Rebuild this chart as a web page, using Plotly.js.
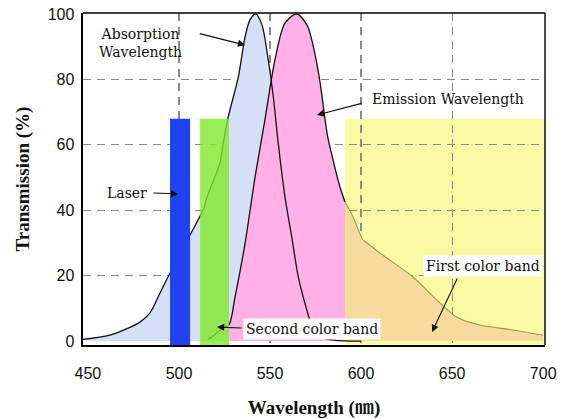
<!DOCTYPE html>
<html>
<head>
<meta charset="utf-8">
<script src="https://cdn.plot.ly/plotly-3.0.1.min.js"></script>
<style>html,body{margin:0;padding:0;background:#fff;}#chart{width:570px;height:419px;}</style>
</head>
<body>
<div id="chart"></div>
<script>
// ---- data ----
const absWavelength = [447, 462.1, 478.6, 484.1, 489.6, 495.1, 506.1, 513.7, 515.4, 522.5, 524.2, 527.1, 532.6, 536.3, 539, 542.1, 545.6, 549, 551.8, 554.5, 558.2, 561.9, 565.5, 569.2, 572.9, 577, 585, 600];
const absorption    = [0.5, 1.8, 5.8, 8.6, 14.7, 20.8, 32.4, 40.7, 44, 54.4, 60.2, 68.6, 80.8, 93, 98.2, 100, 96.6, 86, 74.7, 60.5, 44.1, 31.9, 19.7, 11.5, 4.9, 1.5, 0.3, 0];

const emWavelength = [516, 518, 523.5, 527.5, 530.8, 536.3, 541.8, 547.2, 552.7, 558.2, 564.7, 570.3, 572.5, 577, 581.5, 584.6, 588.4, 591.2, 595.6, 601.1, 603.3, 610.4, 614.2, 628.5, 641.7, 652.7, 665.3, 683.4, 700];
const emission     = [0.6, 1.2, 3.7, 5, 13.5, 29.9, 50.2, 67.6, 86, 97.2, 100, 96.6, 93, 80.8, 63, 55.4, 47.1, 42.5, 37.9, 30.9, 30, 26.9, 25.4, 19.6, 12.5, 7.3, 4.9, 3.4, 1.8];

const laserBand  = [495.1, 506.1];
const secondBand = [511.6, 527.5];
const firstBand  = [591.2, 701];
const bandHeight = 68;

const xTicks = [450, 500, 550, 600, 650, 700];
const yTicks = [0, 20, 40, 60, 80, 100];
const xGrid = [500, 550, 600, 650];
const yGrid = [20, 40, 60, 80];

// ---- helpers ----
function pick(xs, ys, lo, hi) {
  const x = [], y = [];
  xs.forEach((v, i) => { if (v >= lo && v <= hi) { x.push(v); y.push(ys[i]); } });
  return {x, y};
}
const emPink = pick(emWavelength, emission, secondBand[1], firstBand[0]);
const emTan  = pick(emWavelength, emission, firstBand[0], 800);
const emLeft = pick(emWavelength, emission, 0, firstBand[0]);

const sp = {shape: 'spline', smoothing: 0.8};
const traces = [
  {x: absWavelength, y: absorption, type: 'scatter', mode: 'lines', fill: 'tozeroy',
   fillcolor: '#d4e0f6', line: Object.assign({width: 0, color: 'rgba(0,0,0,0)'}, sp), hoverinfo: 'skip'},
  {x: emPink.x, y: emPink.y, type: 'scatter', mode: 'lines', fill: 'tozeroy',
   fillcolor: '#ffb0e6', line: Object.assign({width: 0, color: 'rgba(0,0,0,0)'}, sp), hoverinfo: 'skip'},
  {x: emTan.x, y: emTan.y, type: 'scatter', mode: 'lines', fill: 'tozeroy',
   fillcolor: '#f7da9e', line: Object.assign({width: 0, color: 'rgba(0,0,0,0)'}, sp), hoverinfo: 'skip'},
  {x: absWavelength, y: absorption, type: 'scatter', mode: 'lines',
   line: Object.assign({width: 1.3, color: '#111'}, sp)},
  {x: emLeft.x, y: emLeft.y, type: 'scatter', mode: 'lines',
   line: Object.assign({width: 1.3, color: '#111'}, sp)},
  {x: emTan.x, y: emTan.y, type: 'scatter', mode: 'lines',
   line: Object.assign({width: 1.1, color: '#9a9a4e'}, sp)}
];

const serif = 'DejaVu Serif, Liberation Serif, serif';
const titleFont = {family: 'Liberation Serif, Noto Serif CJK JP, Noto Sans CJK JP, serif', size: 19, color: '#111', weight: 'bold'};
const tickFont = {family: 'Liberation Sans, Arial, sans-serif', size: 16, color: '#111'};
const annFont = {family: serif, size: 14, color: '#111'};
const gridStyle = {showgrid: true, gridcolor: '#8a8a8a', gridwidth: 1.2, griddash: '8px,6px', ticks: ''};

function label(text, x, y, extra) {
  return Object.assign({text, x, y, xref: 'x', yref: 'y', showarrow: false, font: annFont}, extra || {});
}
function arrow(tx, ty, hx, hy) {
  return {text: '', x: hx, y: hy, ax: tx, ay: ty, xref: 'x', yref: 'y', axref: 'x', ayref: 'y',
          showarrow: true, arrowhead: 2, arrowsize: 1.3, arrowwidth: 1.1, arrowcolor: '#111', standoff: 0, startstandoff: 0};
}

const layout = {
  width: 570, height: 419,
  margin: {l: 83, r: 25, t: 13, b: 74},
  paper_bgcolor: '#fff', plot_bgcolor: '#fff',
  showlegend: false,
  xaxis: {
    range: [447.3, 701], tickvals: xTicks, ticktext: xTicks.map(String),
    showgrid: false,
    minor: Object.assign({tickvals: xGrid}, gridStyle),
    showline: true, linecolor: '#000', linewidth: 2, zeroline: false,
    ticks: 'outside', ticklen: 13, tickcolor: 'rgba(0,0,0,0)',
    tickfont: tickFont,
    title: {text: 'Wavelength (㎚)', font: titleFont, standoff: 19}
  },
  yaxis: {
    range: [-1.2, 100.3], tickvals: yTicks, ticktext: yTicks.map(String),
    showgrid: false,
    minor: Object.assign({tickvals: yGrid}, gridStyle),
    showline: true, linecolor: '#000', linewidth: 2.4, zeroline: false,
    ticks: 'outside', ticklen: 3, tickcolor: 'rgba(0,0,0,0)',
    tickfont: tickFont,
    title: {text: 'Transmission (%)', font: titleFont, standoff: 13}
  },
  shapes: [
    {type: 'rect', xref: 'x', yref: 'y', x0: firstBand[0], x1: firstBand[1], y0: -1.2, y1: bandHeight,
     fillcolor: '#fafaa5', line: {width: 0}, layer: 'below'},
    {type: 'rect', xref: 'x', yref: 'y', x0: laserBand[0], x1: laserBand[1], y0: -1.2, y1: bandHeight,
     fillcolor: '#2043f0', line: {width: 0}, layer: 'above'},
    {type: 'rect', xref: 'x', yref: 'y', x0: secondBand[0], x1: secondBand[1], y0: -1.2, y1: bandHeight,
     fillcolor: '#80ea2a', opacity: 0.8, line: {width: 0}, layer: 'above'},
    {type: 'line', xref: 'paper', yref: 'paper', x0: 0, x1: 1, y0: 1, y1: 1, line: {width: 1.4, color: '#000'}, layer: 'above'},
    {type: 'line', xref: 'paper', yref: 'paper', x0: 1, x1: 1, y0: 0, y1: 1, line: {width: 1.4, color: '#000'}, layer: 'above'}
  ],
  annotations: [
    label('Absorption<br>Wavelength', 479.1, 91.1, {align: 'center'}),
    arrow(510.6, 94.1, 536.3, 90.5),
    label('Emission Wavelength', 648, 74),
    arrow(601.1, 72.8, 575.8, 69.1),
    label('Laser', 471.5, 45.3),
    arrow(485.2, 45.3, 499.5, 45),
    label('Second color band', 573.3, 3.7, {bgcolor: '#fff', borderpad: 2}),
    arrow(535.2, 4, 520.9, 4.3),
    label('First color band', 667.2, 22.9, {bgcolor: '#fff', borderpad: 2}),
    arrow(653.2, 19.6, 639, 2.8)
  ]
};

Plotly.newPlot('chart', traces, layout, {displayModeBar: false, staticPlot: true});
</script>
</body>
</html>
